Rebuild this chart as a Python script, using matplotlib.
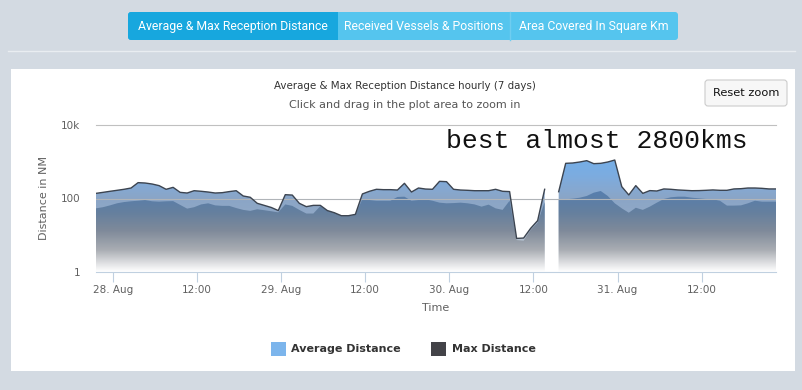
import numpy as np
import pandas as pd
import matplotlib
matplotlib.use('Agg')
import matplotlib.pyplot as plt
import matplotlib.dates as mdates
import matplotlib.transforms as mtransforms
from matplotlib.colors import LinearSegmentedColormap
from matplotlib.patches import Rectangle, FancyBboxPatch
from matplotlib.lines import Line2D
from matplotlib.ticker import FuncFormatter, NullLocator

W, H = 803, 390

# hourly readings (NM), None = no data
times = pd.date_range('2014-08-27 21:36', periods=98, freq='h')
max_distance = [138, 147, 157, 167, 178, 193, 270, 264, 248, 224,
                178, 201, 147, 141, 163, 157, 150, 141, 144, 154,
                163, 117, 108, 74, 65, 57, 47, 127, 124, 74,
                60, 65, 65, 47, 41, 34, 34, 37, 133, 157,
                178, 174, 174, 170, 259, 150, 193, 181, 178, 293,
                287, 178, 170, 167, 163, 163, 163, 178, 157, 154,
                8.2, 8.4, 15.4, 25, 178, None, 153, 906, 925, 984,
                1070, 887, 906, 984, 1114, 210, 125, 224, 138, 164,
                160, 182, 178, 171, 167, 163, 164, 167, 171, 167,
                167, 182, 185, 193, 193, 189, 182, 182]
avg_distance = [54, 58, 65, 74, 80, 84, 87, 91, 84, 82,
                84, 85, 67, 53, 58, 69, 74, 65, 63, 63,
                55, 49, 46, 51, 48, 45, 42, 69, 63, 49,
                39, 39, 62, 46, 41, 33, 33, 36, 97, 91,
                87, 87, 87, 110, 112, 87, 91, 95, 87, 77,
                74, 75, 77, 74, 69, 60, 68, 54, 49, 87,
                7.4, 7.1, 13.9, 22, 80, None, 91, 95, 99, 105,
                117, 144, 160, 117, 74, 54, 41, 56, 49, 60,
                77, 97, 108, 112, 112, 105, 101, 97, 95, 87,
                64, 64, 65, 74, 87, 82, 82, 82]

y_ticks = [1, 100, 10000]
y_tick_labels = ['1', '100', '10k']
tabs = ['Average & Max Reception Distance', 'Received Vessels & Positions', 'Area Covered In Square Km']
series_names = ['Average Distance', 'Max Distance']

plt.rcParams['font.family'] = ['DejaVu Sans']

fig = plt.figure(figsize=(W / 100, H / 100), dpi=100)
fig.patch.set_facecolor('#d3dae2')
# pixel coordinates, y pointing down
pix = mtransforms.Affine2D().scale(1 / W, -1 / H).translate(0, 1) + fig.transFigure

# page chrome
fig.add_artist(Rectangle((11, 69), 784, 302, fc='white', ec='none', transform=pix, zorder=-5))
fig.add_artist(Line2D([8, 795], [51, 51], color='#e9edf1', lw=1, transform=pix))
tab_x = [128, 338, 510, 678]
fig.add_artist(FancyBboxPatch((128, 12), 550, 28, boxstyle='round,pad=0,rounding_size=3',
                              fc='#55c5ee', ec='none', transform=pix))
fig.add_artist(FancyBboxPatch((128, 12), 210, 28, boxstyle='round,pad=0,rounding_size=3',
                              fc='#17a7de', ec='none', transform=pix))
fig.add_artist(Rectangle((330, 12), 8, 28, fc='#17a7de', ec='none', transform=pix))
fig.add_artist(Line2D([510, 510], [12, 40], color='#6fcdf0', lw=1, transform=pix))
for i, t in enumerate(tabs):
    fig.text((tab_x[i] + tab_x[i + 1]) / 2, 26.5, t, transform=pix, ha='center', va='center',
             color='white', fontsize=8.8, family='Roboto')

# chart
ax = fig.add_axes([96 / W, 1 - 272 / H, 680 / W, 147 / H])
ax.set_facecolor('none')
ax.set_yscale('log')
x = mdates.date2num(times.to_pydatetime())
ymax = np.array([np.nan if v is None else v for v in max_distance], dtype=float)
yavg = np.array([np.nan if v is None else v for v in avg_distance], dtype=float)
ax.set_xlim(x[0], x[-1])
ax.set_ylim(1, 10000)
ax.set_autoscale_on(False)

max_stops = [(0, '#ffffff'), (0.2, '#b8c4d2'), (0.4, '#90a8c6'), (0.5, '#8aa5c6'),
             (0.56, '#86a8d0'), (0.66, '#7cace0'), (0.75, '#76aee6'), (1, '#6fb0f2')]
avg_stops = [(0, '#ffffff'), (0.05, '#e4e5e7'), (0.15, '#a9adb3'), (0.28, '#7f8a9a'),
             (0.4, '#66809e'), (0.5, '#5b7ea8'), (0.6, '#5580b4'), (1, '#4a80c0')]


def gradient_area(xs, ys, stops, z):
    cmap = LinearSegmentedColormap.from_list('g', stops)
    idx = np.flatnonzero(np.isfinite(ys))
    runs = np.split(idx, np.flatnonzero(np.diff(idx) > 1) + 1)
    for r in runs:
        poly = ax.fill_between(xs[r], ys[r], 1, color='none', lw=0)
        im = ax.imshow(np.linspace(0, 1, 256).reshape(-1, 1), cmap=cmap, aspect='auto',
                       origin='lower', extent=(0, 1, 0, 1), transform=ax.transAxes,
                       zorder=z, interpolation='bilinear')
        im.set_clip_path(poly.get_paths()[0], transform=ax.transData)


gradient_area(x, ymax, max_stops, 1)
gradient_area(x, yavg, avg_stops, 2)
ax.axhline(10000, color='#c0c0c0', lw=0.8, zorder=0.5, clip_on=False)
ax.axhline(100, color='#b0b4b8', lw=0.8, zorder=3)
ax.plot(x, ymax, color='#3c4450', lw=1.0, zorder=4)

for s in ['top', 'left', 'right']:
    ax.spines[s].set_visible(False)
ax.spines['bottom'].set_color('#c0d0e0')
ax.spines['bottom'].set_linewidth(0.8)

ax.set_yticks(y_ticks)
ax.set_yticklabels(y_tick_labels)
ax.yaxis.set_minor_locator(NullLocator())
ax.tick_params(axis='y', length=0, pad=11.5, labelsize=7.5, labelcolor='#606060')

ax.xaxis.set_major_locator(mdates.HourLocator(byhour=[0, 12]))
ax.xaxis.set_minor_locator(NullLocator())


def fmt(v, pos):
    d = mdates.num2date(v)
    return d.strftime('%d. %b') if d.hour == 0 else d.strftime('%H:%M')


ax.xaxis.set_major_formatter(FuncFormatter(fmt))
ax.tick_params(axis='x', length=7.2, width=0.8, color='#c0d0e0', pad=2,
               labelsize=7.5, labelcolor='#606060')

# texts
fig.text(405, 86, 'Average & Max Reception Distance hourly (7 days)', transform=pix,
         ha='center', va='center', fontsize=7.4, color='#333333')
fig.text(405, 105, 'Click and drag in the plot area to zoom in', transform=pix,
         ha='center', va='center', fontsize=8, color='#555555')
fig.text(44, 198, 'Distance in NM', transform=pix, rotation=90, ha='center', va='center',
         fontsize=8, color='#606060')
fig.text(436, 308, 'Time', transform=pix, ha='center', va='center', fontsize=8, color='#606060')
fig.text(446, 141, 'best almost 2800kms', transform=pix, ha='left', va='center',
         fontsize=19, family='Liberation Mono', color='#111111')

# reset zoom button
fig.add_artist(FancyBboxPatch((705, 80), 82, 26, boxstyle='round,pad=0,rounding_size=3',
                              fc='#f7f7f7', ec='#cccccc', lw=0.8, transform=pix))
fig.text(746, 93.5, 'Reset zoom', transform=pix, ha='center', va='center', fontsize=8.2,
         color='#111111')

# legend
fig.add_artist(Rectangle((271, 342), 15, 14, fc='#7cb5ec', ec='none', transform=pix))
fig.text(291, 349.5, series_names[0], transform=pix, ha='left', va='center', fontsize=8,
         fontweight='bold', color='#333333')
fig.add_artist(Rectangle((431, 342), 15, 14, fc='#434348', ec='none', transform=pix))
fig.text(452, 349.5, series_names[1], transform=pix, ha='left', va='center', fontsize=8,
         fontweight='bold', color='#333333')

fig.savefig('out.png', dpi=100)
